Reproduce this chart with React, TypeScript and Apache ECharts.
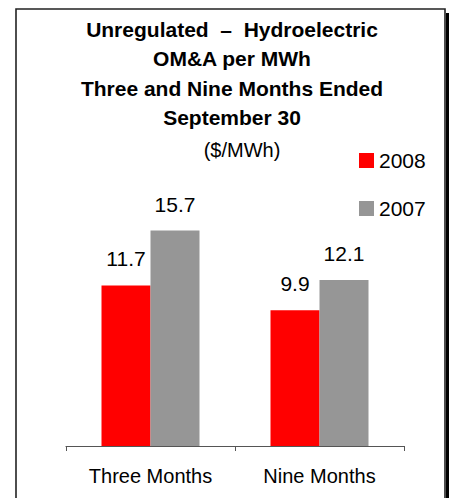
import React, { useEffect, useRef } from "react";
import * as echarts from "echarts";

const categories = ["Three Months", "Nine Months"];
const seriesNames = ["2008", "2007"];
const values2008 = [11.7, 9.9];
const values2007 = [15.7, 12.1];
const titleLines = [
  "Unregulated  –  Hydroelectric",
  "OM&A per MWh",
  "Three and Nine Months Ended",
  "September 30",
];
const unitText = "($/MWh)";

const FONT = "'Liberation Sans', Arial, Helvetica, sans-serif";

export default function App() {
  const ref = useRef<HTMLDivElement>(null);
  useEffect(() => {
    if (!ref.current) return;
    const chart = echarts.init(ref.current, undefined, { renderer: "svg" });
    const labelStyle = {
      show: true,
      position: "top",
      distance: 16,
      fontFamily: FONT,
      fontSize: 21,
      color: "#000",
    };
    chart.setOption({
      animation: false,
      backgroundColor: "#ffffff",
      title: [
        {
          text: titleLines.join("\n"),
          left: 232,
          textAlign: "center",
          top: 14.5,
          padding: 0,
          textStyle: {
            fontFamily: FONT,
            fontWeight: "bold",
            fontSize: 21,
            lineHeight: 29.4,
            color: "#000",
          },
        },
        {
          text: unitText,
          left: 242,
          textAlign: "center",
          top: 140,
          padding: 0,
          textStyle: {
            fontFamily: FONT,
            fontWeight: "normal",
            fontSize: 20,
            lineHeight: 20,
            color: "#000",
          },
        },
      ],
      legend: {
        orient: "vertical",
        left: 359,
        top: 150,
        padding: 0,
        itemWidth: 15,
        itemHeight: 15,
        itemGap: 27,
        icon: "rect",
        data: seriesNames,
        textStyle: { fontFamily: FONT, fontSize: 21, color: "#000" },
      },
      grid: { left: 66, top: 171.6, width: 338, height: 274.4 },
      xAxis: {
        type: "category",
        data: categories,
        axisLine: { lineStyle: { color: "#555", width: 1.2 } },
        axisTick: { show: true, length: 5, lineStyle: { color: "#555" } },
        axisLabel: {
          fontFamily: FONT,
          fontSize: 20,
          color: "#000",
          margin: 20,
        },
      },
      yAxis: { type: "value", min: 0, max: 20, show: false },
      series: [
        {
          name: seriesNames[0],
          type: "bar",
          data: values2008,
          barWidth: 49,
          barGap: "0%",
          itemStyle: { color: "#ff0000" },
          label: labelStyle,
        },
        {
          name: seriesNames[1],
          type: "bar",
          data: values2007,
          barWidth: 49,
          barGap: "0%",
          itemStyle: { color: "#969696" },
          label: labelStyle,
        },
      ],
      graphic: [
        {
          type: "rect",
          shape: { x: 16, y: 9, width: 429, height: 500 },
          style: { fill: "none", stroke: "#222", lineWidth: 1.6 },
          silent: true,
        },
        {
          type: "rect",
          shape: { x: 446, y: 13, width: 3, height: 490 },
          style: { fill: "#000" },
          silent: true,
        },
      ],
    });
    return () => chart.dispose();
  }, []);
  return (
    <div
      ref={ref}
      style={{ position: "absolute", left: 0, top: 0, width: 450, height: 498 }}
    />
  );
}
